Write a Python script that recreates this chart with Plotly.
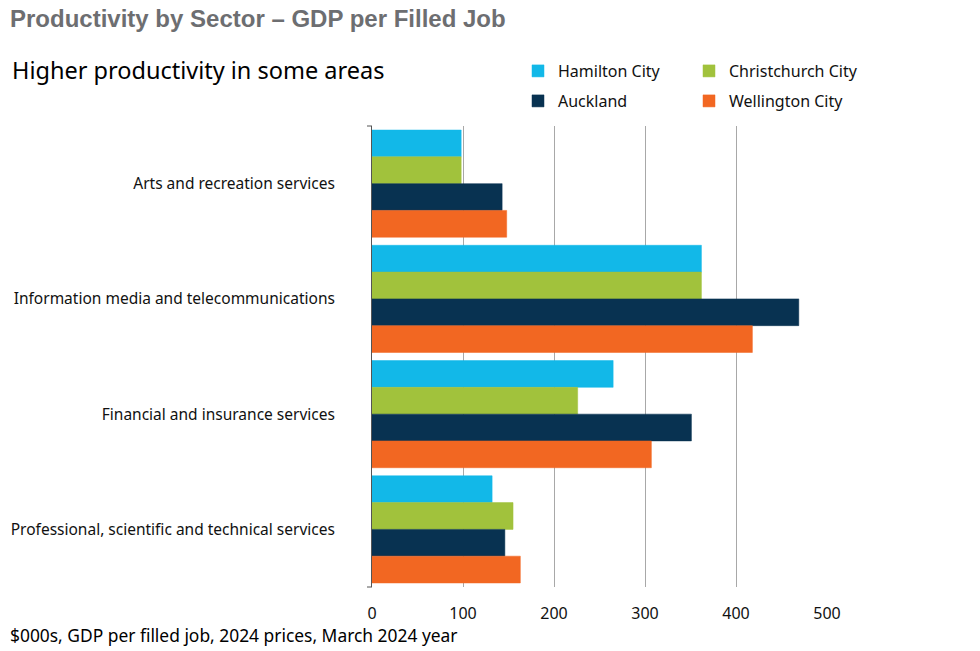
import plotly.graph_objects as go

categories = [
    "Arts and recreation services",
    "Information media and telecommunications",
    "Financial and insurance services",
    "Professional, scientific and technical services",
]
hamilton = [98, 362, 265, 132]
christchurch = [98, 362, 226, 155]
auckland = [143, 469, 351, 146]
wellington = [148, 418, 307, 163]
x_ticks = [0, 100, 200, 300, 400, 500]

series = [
    ("Hamilton City", hamilton, "#12B8E8", "legend"),
    ("Christchurch City", christchurch, "#A1C23C", "legend"),
    ("Auckland", auckland, "#083251", "legend2"),
    ("Wellington City", wellington, "#F26722", "legend2"),
]

OFF = 8  # page body margin
W, H = 980 - OFF, 651 - OFF
L = 372 - OFF
T = 126 - OFF
R = W - (827 - OFF)
B = H - (587 - OFF)
PW, PH = W - L - R, H - T - B


def px(xpix):
    return (xpix - OFF - L) / PW


def py(ypix):
    return (H - B - (ypix - OFF)) / PH


FONT = "Noto Sans"

fig = go.Figure()
for name, vals, col, lg in series:
    fig.add_trace(go.Bar(
        y=categories, x=vals, name=name, orientation="h",
        marker=dict(color=col, line=dict(color=col, width=0.5)),
        legend=lg,
    ))

legend_common = dict(
    orientation="h", xanchor="left", yanchor="middle",
    entrywidth=126, entrywidthmode="pixels",
    font=dict(family=FONT, size=16, color="#111111"),
    bgcolor="rgba(0,0,0,0)", itemclick=False, itemdoubleclick=False,
)

fig.update_layout(
    width=W, height=H,
    margin=dict(l=L, r=R, t=T, b=B, autoexpand=False),
    paper_bgcolor="white", plot_bgcolor="white",
    barmode="group", bargap=0.07, bargroupgap=0,
    font=dict(family=FONT, size=15, color="#111111"),
    xaxis=dict(
        range=[0, 500], tickvals=x_ticks, showgrid=True,
        gridcolor="#a8a8a8", gridwidth=1, zeroline=False,
        showline=False, ticks="", ticklabelstandoff=15, automargin=False,
        tickfont=dict(family=FONT, size=16, color="#111111"),
    ),
    yaxis=dict(
        autorange="reversed", showline=True, linecolor="#555555",
        linewidth=1, ticks="", showgrid=False, ticklabelstandoff=33,
        automargin=False,
        tickfont=dict(family=FONT, size=15.5, color="#111111"),
    ),
    legend=dict(x=px(518), y=py(71), **legend_common),
    legend2=dict(x=px(518), y=py(101), **legend_common),
    showlegend=True,
)

# short end ticks on the category axis
for yp in (0, 1):
    fig.add_shape(type="line", xref="paper", yref="paper",
                  x0=px(367), x1=px(372), y0=yp, y1=yp,
                  line=dict(color="#555555", width=1))

fig.add_annotation(text="<b>Productivity by Sector \u2013 GDP per Filled Job</b>",
                   xref="paper", yref="paper", x=px(8), y=py(19),
                   xanchor="left", yanchor="middle", showarrow=False,
                   font=dict(family="Liberation Sans", size=24, color="#6d6e71"))
fig.add_annotation(text="Higher productivity in some areas",
                   xref="paper", yref="paper", x=px(10), y=py(70),
                   xanchor="left", yanchor="middle", showarrow=False,
                   font=dict(family=FONT, size=23.5, color="#000000"))
fig.add_annotation(text="$000s, GDP per filled job, 2024 prices, March 2024 year",
                   xref="paper", yref="paper", x=px(8), y=py(635),
                   xanchor="left", yanchor="middle", showarrow=False,
                   font=dict(family=FONT, size=17.4, color="#000000"))

fig.write_html("out.html")
